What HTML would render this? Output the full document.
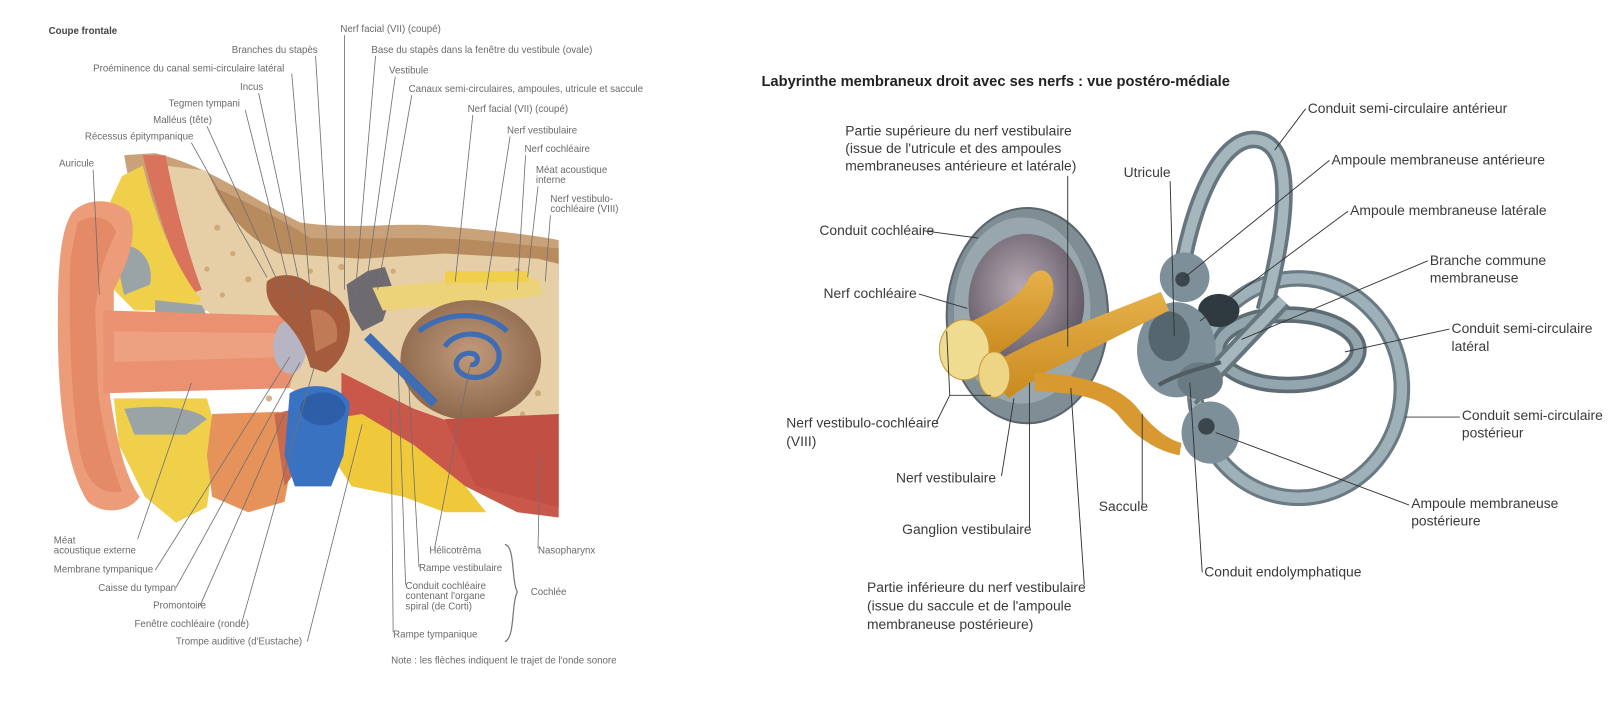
<!DOCTYPE html>
<html><head><meta charset="utf-8"><style>
html,body{margin:0;padding:0;background:#fff;}
svg{display:block;}
.l{font-family:"Liberation Sans",sans-serif;font-size:9.4px;fill:#6a6a6a;}
.r{font-family:"Liberation Sans",sans-serif;font-size:13.4px;fill:#3a3a3a;}
.ll{stroke:#707070;stroke-width:0.8;fill:none;}
.rl{stroke:#333;stroke-width:0.9;fill:none;}
</style></head><body>
<svg width="1614" height="712" viewBox="0 0 1560 688" preserveAspectRatio="none" xmlns="http://www.w3.org/2000/svg">
<rect width="1560" height="688" fill="#fff"/>
<defs>
<radialGradient id="coch" cx="0.45" cy="0.4" r="0.6"><stop offset="0" stop-color="#b7a9b3"/><stop offset="1" stop-color="#5f5763"/></radialGradient>
<linearGradient id="nerve" x1="0" y1="0" x2="0" y2="1"><stop offset="0" stop-color="#e6b04a"/><stop offset="1" stop-color="#c98a1e"/></linearGradient>
<radialGradient id="cob" cx="0.5" cy="0.45" r="0.6"><stop offset="0" stop-color="#c09a7a"/><stop offset="1" stop-color="#8a6448"/></radialGradient>
</defs>

<!-- ============ LEFT FIGURE ============ -->
<path d="M120,150 L150,148 C200,160 240,190 290,215 C340,222 380,215 420,218 C470,222 510,226 540,232 L540,410 L470,420 L400,400 L330,360 L250,300 L180,300 L140,260 Z" fill="#c9a27a"/>
<path d="M180,170 C230,190 270,210 300,230 C340,232 400,228 460,232 L540,240 L540,270 L470,255 L380,250 L300,255 L240,260 L190,250 Z" fill="#b88b5e"/>
<path d="M160,160 L200,165 C215,200 230,225 270,245 L350,250 L430,245 L520,250 L540,255 L540,415 L490,420 L430,410 L380,390 L330,380 L290,380 L250,360 L230,330 L200,300 L170,290 L160,220 Z" fill="#e6cfa6"/>
<g fill="#c9a070" opacity="0.8">
<circle cx="210" cy="220" r="3"/><circle cx="225" cy="245" r="2.5"/><circle cx="240" cy="270" r="3"/><circle cx="200" cy="260" r="2.5"/><circle cx="300" cy="262" r="2.5"/><circle cx="330" cy="258" r="3"/><circle cx="380" cy="262" r="2.5"/><circle cx="500" cy="262" r="3"/><circle cx="520" cy="380" r="3"/><circle cx="505" cy="400" r="2.5"/><circle cx="300" cy="395" r="3"/><circle cx="320" cy="385" r="2.5"/><circle cx="260" cy="385" r="3"/><circle cx="215" cy="285" r="2.5"/>
</g>
<path d="M138,150 L160,150 C170,200 180,240 195,280 L180,285 C165,240 150,200 138,150 Z" fill="#d9735c"/>
<path d="M118,170 L138,160 C150,210 170,260 195,290 L170,300 L130,300 L100,270 L95,220 Z" fill="#f0d04a"/>
<path d="M110,240 C130,230 150,250 145,275 L120,285 Z" fill="#9aa4a6"/>
<path d="M150,290 L195,295 L200,305 L150,305 Z" fill="#9aa4a6"/>
<path d="M110,385 L200,385 L210,420 L200,490 L170,505 L140,480 L115,430 Z" fill="#f0d04a"/>
<path d="M120,395 C160,390 190,395 200,405 L180,420 L130,420 Z" fill="#9aa4a6"/>
<path d="M70,205 C85,190 110,192 125,205 C135,230 120,260 110,280 L110,300 L106,380 C112,420 120,460 135,480 C125,495 100,498 85,485 C62,450 55,380 56,300 C56,250 60,220 70,205 Z" fill="#ec9c78"/>
<path d="M75,215 C90,205 108,210 112,225 C105,240 98,255 95,275 L92,300 L95,380 C100,420 110,455 118,475 C100,478 85,470 78,440 C68,390 66,300 68,250 Z" fill="#e58a66"/>
<path d="M100,300 L275,305 L290,330 L280,375 L100,380 Z" fill="#e99170"/>
<path d="M110,320 L270,322 L275,345 L110,350 Z" fill="#efa585" opacity="0.8"/>
<ellipse cx="280" cy="335" rx="16" ry="26" fill="#b7b4c4"/>
<path d="M258,272 C270,262 290,265 300,275 C320,280 335,290 338,310 C340,330 330,350 315,360 L300,355 C295,335 285,320 275,310 C265,300 255,290 258,272 Z" fill="#a55c3c"/>
<path d="M300,300 C315,295 330,310 325,330 L305,340 Z" fill="#c07a55"/>
<path d="M335,275 L355,262 L372,258 L380,280 L370,310 L350,320 L338,300 Z" fill="#6d6a70"/>
<path d="M360,278 L470,268 L520,270 L525,285 L470,292 L370,300 Z" fill="#ecd37a"/>
<path d="M430,262 L510,262 L512,272 L430,274 Z" fill="#f0d04a"/>
<ellipse cx="455" cy="348" rx="68" ry="58" fill="url(#cob)"/>
<g fill="none" stroke="#3e6db5" stroke-width="5">
<path d="M405,320 C430,300 470,300 490,320"/>
<path d="M430,335 C440,318 475,318 482,340 C486,360 460,372 445,360 C435,352 445,338 458,342 C465,346 460,354 455,352"/>
</g>
<path d="M355,325 L420,390" stroke="#3e6db5" stroke-width="9"/>
<path d="M330,360 L400,395 L470,420 L540,410 L540,500 L500,495 L450,470 L380,440 L330,400 Z" fill="#c9574a"/>
<path d="M430,405 L540,400 L540,490 L460,470 Z" fill="#c24f43"/>
<path d="M318,405 L350,400 L400,430 L450,470 L470,495 L430,495 L390,480 L340,470 L320,440 Z" fill="#f0c93a"/>
<path d="M205,400 L270,398 L285,430 L275,485 L240,495 L205,480 L200,440 Z" fill="#e5935a"/>
<path d="M265,400 L285,395 L290,450 L275,470 Z" fill="#c86a4e"/>
<path d="M280,380 C300,368 330,372 338,390 L332,440 L320,470 L285,470 L275,440 Z" fill="#3a72c2"/>
<ellipse cx="312" cy="395" rx="22" ry="16" fill="#2f5ea8"/>

<text class="l" x="47" y="33" style="font-weight:bold;fill:#444">Coupe frontale</text>
<text class="l" x="329" y="31">Nerf facial (VII) (coupé)</text>
<text class="l" x="224" y="51">Branches du stapès</text>
<text class="l" x="359" y="51">Base du stapès dans la fenêtre du vestibule (ovale)</text>
<text class="l" x="90" y="69">Proéminence du canal semi-circulaire latéral</text>
<text class="l" x="376" y="71">Vestibule</text>
<text class="l" x="232" y="87">Incus</text>
<text class="l" x="395" y="89">Canaux semi-circulaires, ampoules, utricule et saccule</text>
<text class="l" x="163" y="103">Tegmen tympani</text>
<text class="l" x="452" y="108">Nerf facial (VII) (coupé)</text>
<text class="l" x="148" y="119">Malléus (tête)</text>
<text class="l" x="490" y="129">Nerf vestibulaire</text>
<text class="l" x="82" y="135">Récessus épitympanique</text>
<text class="l" x="507" y="147">Nerf cochléaire</text>
<text class="l" x="57" y="161">Auricule</text>
<text class="l" x="518" y="167">Méat acoustique</text>
<text class="l" x="518" y="177">interne</text>
<text class="l" x="532" y="195">Nerf vestibulo-</text>
<text class="l" x="532" y="205">cochléaire (VIII)</text>
<text class="l" x="52" y="525">Méat</text>
<text class="l" x="52" y="535">acoustique externe</text>
<text class="l" x="52" y="553">Membrane tympanique</text>
<text class="l" x="95" y="571">Caisse du tympan</text>
<text class="l" x="148" y="588">Promontoire</text>
<text class="l" x="130" y="606">Fenêtre cochléaire (ronde)</text>
<text class="l" x="170" y="623">Trompe auditive (d'Eustache)</text>
<text class="l" x="415" y="535">Hélicotrêma</text>
<text class="l" x="405" y="552">Rampe vestibulaire</text>
<text class="l" x="392" y="569">Conduit cochléaire</text>
<text class="l" x="392" y="579">contenant l'organe</text>
<text class="l" x="392" y="589">spiral (de Corti)</text>
<text class="l" x="380" y="616">Rampe tympanique</text>
<text class="l" x="513" y="575">Cochlée</text>
<text class="l" x="520" y="535">Nasopharynx</text>
<text class="l" x="378" y="641">Note : les flèches indiquent le trajet de l'onde sonore</text>
<path d="M488,526 C498,528 494,560 500,572 C494,584 498,616 488,620" stroke="#777" stroke-width="1.2" fill="none"/>

<g class="ll">
<path d="M333,34 L333,280"/>
<path d="M305,54 L320,300"/>
<path d="M363,54 L342,300"/>
<path d="M282,71 L300,285"/>
<path d="M382,74 L352,290"/>
<path d="M250,90 L295,300"/>
<path d="M398,92 L365,280"/>
<path d="M237,106 L283,290"/>
<path d="M457,111 L440,272"/>
<path d="M200,122 L272,280"/>
<path d="M493,132 L470,280"/>
<path d="M185,138 L258,268"/>
<path d="M508,150 L500,280"/>
<path d="M90,164 L96,285"/>
<path d="M520,180 L510,268"/>
<path d="M532,208 L527,272"/>
<path d="M133,521 L185,370"/>
<path d="M150,551 L280,345"/>
<path d="M170,568 L290,350"/>
<path d="M193,586 L275,400"/>
<path d="M233,604 L305,350"/>
<path d="M297,620 L350,410"/>
<path d="M420,530 L455,350"/>
<path d="M405,548 L395,370"/>
<path d="M392,565 L385,360"/>
<path d="M380,611 L378,395"/>
<path d="M520,530 L522,440"/>
</g>

<!-- ============ RIGHT FIGURE ============ -->
<text class="r" x="736" y="83" style="font-weight:bold;font-size:14.2px;fill:#222">Labyrinthe membraneux droit avec ses nerfs : vue postéro-médiale</text>

<ellipse cx="993" cy="305" rx="78" ry="104" fill="#7f8d94" stroke="#5a666c" stroke-width="2"/>
<ellipse cx="988" cy="300" rx="66" ry="90" fill="#98a7ae"/>
<ellipse cx="992" cy="292" rx="56" ry="66" fill="url(#coch)"/>
<ellipse cx="1255" cy="375" rx="100" ry="106" fill="none" stroke="#6b7b83" stroke-width="16"/>
<ellipse cx="1255" cy="375" rx="100" ry="106" fill="none" stroke="#9eb0b8" stroke-width="10"/>
<ellipse cx="1245" cy="338" rx="68" ry="34" fill="none" stroke="#5e6d75" stroke-width="16"/>
<ellipse cx="1245" cy="338" rx="68" ry="34" fill="none" stroke="#93a5ad" stroke-width="9"/>
<path d="M1140,275 C1150,200 1180,130 1215,135 C1252,140 1245,215 1222,300" fill="none" stroke="#66767e" stroke-width="17"/>
<path d="M1140,275 C1150,200 1180,130 1215,135 C1252,140 1245,215 1222,300" fill="none" stroke="#a5b6bd" stroke-width="10"/>
<path d="M1150,385 L1240,290" stroke="#66767e" stroke-width="18"/>
<path d="M1150,385 L1240,290" stroke="#a5b6bd" stroke-width="10"/>
<ellipse cx="1178" cy="300" rx="20" ry="16" fill="#2f3a40"/>
<ellipse cx="1137" cy="338" rx="38" ry="46" fill="#7d8f98"/>
<ellipse cx="1145" cy="268" rx="24" ry="24" fill="#7d8f98"/>
<circle cx="1143" cy="270" r="7" fill="#3a464c"/>
<ellipse cx="1130" cy="325" rx="20" ry="24" fill="#56666e"/>
<ellipse cx="1170" cy="418" rx="28" ry="30" fill="#7d8f98"/>
<circle cx="1166" cy="412" r="8" fill="#3a464c"/>
<ellipse cx="1160" cy="368" rx="22" ry="18" fill="#6a7a82"/>
<path d="M1120,372 C1140,360 1165,355 1180,350" stroke="#4f5c62" stroke-width="4" fill="none"/>
<path d="M950,355 L1000,330 L1122,282 L1130,300 L1010,360 L975,385 Z" fill="url(#nerve)"/>
<path d="M930,315 C960,300 985,290 995,268 C1005,255 1020,262 1018,282 C1015,305 990,325 960,345 Z" fill="url(#nerve)"/>
<path d="M1000,360 C1040,362 1080,370 1100,395 C1115,415 1130,425 1142,428 L1140,440 C1115,435 1095,420 1080,400 C1060,380 1030,380 1000,378 Z" fill="#d89a30"/>
<ellipse cx="932" cy="338" rx="24" ry="29" fill="#f0dc90" stroke="#c99a3a"/>
<ellipse cx="961" cy="362" rx="15" ry="22" fill="#eed585" stroke="#c99a3a"/>

<text class="r" x="817" y="131">Partie supérieure du nerf vestibulaire</text>
<text class="r" x="817" y="148">(issue de l'utricule et des ampoules</text>
<text class="r" x="817" y="165">membraneuses antérieure et latérale)</text>
<text class="r" x="1086" y="171">Utricule</text>
<text class="r" x="1264" y="109">Conduit semi-circulaire antérieur</text>
<text class="r" x="1287" y="159">Ampoule membraneuse antérieure</text>
<text class="r" x="1305" y="208">Ampoule membraneuse latérale</text>
<text class="r" x="1382" y="256">Branche commune</text>
<text class="r" x="1382" y="273">membraneuse</text>
<text class="r" x="1403" y="322">Conduit semi-circulaire</text>
<text class="r" x="1403" y="339">latéral</text>
<text class="r" x="1413" y="406">Conduit semi-circulaire</text>
<text class="r" x="1413" y="423">postérieur</text>
<text class="r" x="1364" y="491">Ampoule membraneuse</text>
<text class="r" x="1364" y="508">postérieure</text>
<text class="r" x="1164" y="557">Conduit endolymphatique</text>
<text class="r" x="1062" y="494">Saccule</text>
<text class="r" x="872" y="516">Ganglion vestibulaire</text>
<text class="r" x="866" y="466">Nerf vestibulaire</text>
<text class="r" x="760" y="413">Nerf vestibulo-cochléaire</text>
<text class="r" x="760" y="431">(VIII)</text>
<text class="r" x="792" y="227">Conduit cochléaire</text>
<text class="r" x="796" y="288">Nerf cochléaire</text>
<text class="r" x="838" y="572">Partie inférieure du nerf vestibulaire</text>
<text class="r" x="838" y="590">(issue du saccule et de l'ampoule</text>
<text class="r" x="838" y="608">membraneuse postérieure)</text>

<g class="rl">
<path d="M1262,105 L1232,145"/>
<path d="M1285,155 L1145,268"/>
<path d="M1303,204 L1160,310"/>
<path d="M1380,252 L1200,328"/>
<path d="M1401,318 L1300,340"/>
<path d="M1411,403 L1358,403"/>
<path d="M1362,488 L1175,418"/>
<path d="M1162,553 L1150,370"/>
<path d="M1104,488 L1104,400"/>
<path d="M1131,175 L1135,325"/>
<path d="M1032,170 L1032,335"/>
<path d="M995,510 L995,370"/>
<path d="M968,460 L980,385"/>
<path d="M1048,565 L1035,375"/>
<path d="M893,223 L945,230"/>
<path d="M888,284 L935,298"/>
<path d="M905,408 L918,382 L958,382 M918,382 L915,320"/>
</g>
</svg>
</body></html>
